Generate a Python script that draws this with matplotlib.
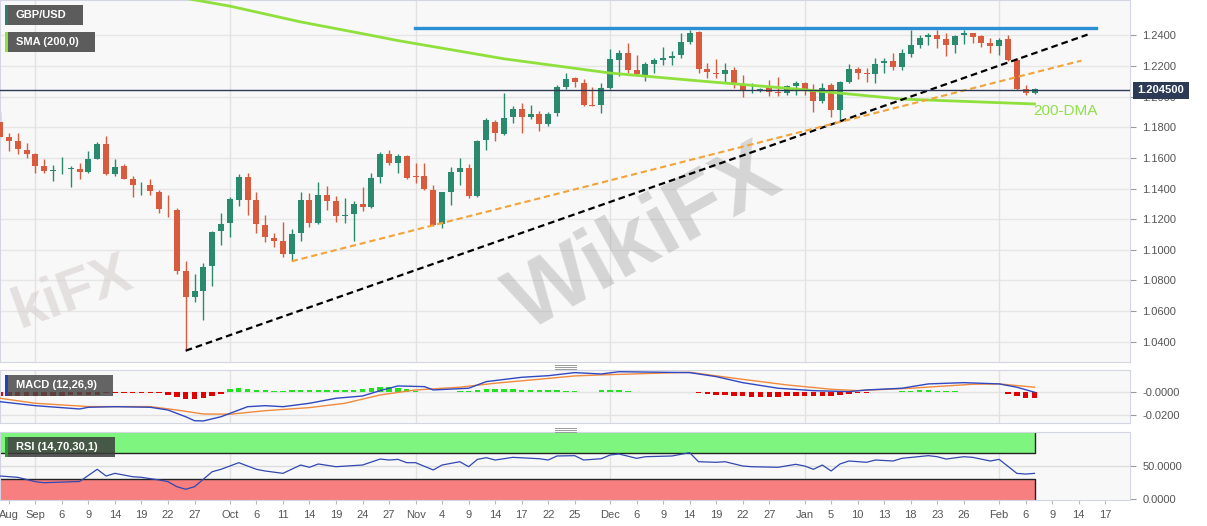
import numpy as np
import pandas as pd
import matplotlib.pyplot as plt
from matplotlib.patches import Rectangle
from matplotlib.lines import Line2D

plt.rcParams['font.family'] = ['Liberation Sans', 'DejaVu Sans']

# trading days on the chart, Fri 26 Aug 2022 .. Fri 17 Feb 2023
days = pd.bdate_range('2022-08-26', '2023-02-17')

# GBP/USD daily candles, 26 Aug 2022 .. 7 Feb 2023
opens = [1.1834, 1.1738, 1.1710, 1.1651, 1.1623, 1.1545, 1.1516, 1.1520, 1.1527, 1.1527,
         1.1510, 1.1593, 1.1689, 1.1495, 1.1545, 1.1464, 1.1421, 1.1421, 1.1377, 1.1268,
         1.1260, 1.0859, 1.0689, 1.0732, 1.0894, 1.1122, 1.1173, 1.1325, 1.1477, 1.1325,
         1.1164, 1.1079, 1.1057, 1.0973, 1.1107, 1.1325, 1.1173, 1.1356, 1.1318, 1.1220,
         1.1233, 1.1301, 1.1281, 1.1473, 1.1625, 1.1569, 1.1612, 1.1484, 1.1482, 1.1390,
         1.1168, 1.1379, 1.1510, 1.1536, 1.1351, 1.1717, 1.1832, 1.1756, 1.1865, 1.1917,
         1.1865, 1.1887, 1.1821, 1.1895, 1.2065, 1.2120, 1.2091, 1.1947, 1.1945, 1.2055,
         1.2239, 1.2287, 1.2174, 1.2141, 1.2213, 1.2237, 1.2254, 1.2272, 1.2359, 1.2424,
         1.2179, 1.2156, 1.2146, 1.2174, 1.2083, 1.2037, 1.2045, 1.2055, 1.2033, 1.2022,
         1.2070, 1.2091, 1.2043, 1.1973, 1.2076, 1.1913, 1.2094, 1.2179, 1.2156, 1.2146,
         1.2218, 1.2233, 1.2196, 1.2279, 1.2337, 1.2392, 1.2403, 1.2375, 1.2337, 1.2403,
         1.2414, 1.2396, 1.2352, 1.2331, 1.2375, 1.2239, 1.2050, 1.2026]
highs = [1.1902, 1.1761, 1.1761, 1.1695, 1.1630, 1.1591, 1.1552, 1.1608, 1.1547, 1.1565,
         1.1647, 1.1706, 1.1743, 1.1591, 1.1560, 1.1482, 1.1444, 1.1460, 1.1390, 1.1358,
         1.1275, 1.0928, 1.0842, 1.0915, 1.1122, 1.1238, 1.1343, 1.1493, 1.1499, 1.1379,
         1.1225, 1.1111, 1.1179, 1.1133, 1.1379, 1.1369, 1.1440, 1.1416, 1.1353, 1.1336,
         1.1318, 1.1408, 1.1499, 1.1640, 1.1651, 1.1625, 1.1619, 1.1565, 1.1565, 1.1423,
         1.1379, 1.1542, 1.1597, 1.1560, 1.1714, 1.1858, 1.1847, 1.2026, 1.1939, 1.1956,
         1.1945, 1.1906, 1.1902, 1.2076, 1.2156, 1.2126, 1.2113, 1.2065, 1.2087, 1.2309,
         1.2305, 1.2348, 1.2272, 1.2228, 1.2250, 1.2322, 1.2300, 1.2414, 1.2435, 1.2428,
         1.2222, 1.2244, 1.2222, 1.2192, 1.2141, 1.2091, 1.2058, 1.2109, 1.2126, 1.2076,
         1.2104, 1.2098, 1.2083, 1.2091, 1.2091, 1.2102, 1.2211, 1.2196, 1.2185, 1.2250,
         1.2250, 1.2287, 1.2309, 1.2435, 1.2403, 1.2414, 1.2435, 1.2414, 1.2403, 1.2435,
         1.2418, 1.2403, 1.2381, 1.2381, 1.2403, 1.2250, 1.2076, 1.2055]
lows = [1.1730, 1.1647, 1.1623, 1.1597, 1.1499, 1.1499, 1.1447, 1.1495, 1.1408, 1.1460,
        1.1503, 1.1591, 1.1490, 1.1482, 1.1460, 1.1346, 1.1358, 1.1358, 1.1238, 1.1212,
        1.0842, 1.0341, 1.0657, 1.0541, 1.0763, 1.1031, 1.1085, 1.1286, 1.1227, 1.1111,
        1.1053, 1.1020, 1.0951, 1.0928, 1.1059, 1.1150, 1.1168, 1.1260, 1.1183, 1.1173,
        1.1059, 1.1255, 1.1271, 1.1434, 1.1553, 1.1503, 1.1460, 1.1438, 1.1390, 1.1155,
        1.1144, 1.1292, 1.1423, 1.1336, 1.1345, 1.1651, 1.1710, 1.1750, 1.1830, 1.1761,
        1.1852, 1.1778, 1.1808, 1.1874, 1.2048, 1.2061, 1.1939, 1.1937, 1.1895, 1.2048,
        1.2135, 1.2156, 1.2141, 1.2104, 1.2156, 1.2207, 1.2207, 1.2250, 1.2344, 1.2156,
        1.2120, 1.2120, 1.2091, 1.2055, 1.1996, 1.2026, 1.2030, 1.2004, 1.2004, 1.2011,
        1.2011, 1.2011, 1.1902, 1.1956, 1.1869, 1.1847, 1.2087, 1.2113, 1.2098, 1.2087,
        1.2152, 1.2174, 1.2174, 1.2257, 1.2316, 1.2337, 1.2316, 1.2265, 1.2283, 1.2344,
        1.2348, 1.2326, 1.2283, 1.2272, 1.2235, 1.2046, 1.2011, 1.2017]
closes = [1.1736, 1.1712, 1.1658, 1.1623, 1.1549, 1.1512, 1.1519, 1.1523, 1.1531, 1.1508,
          1.1591, 1.1689, 1.1495, 1.1540, 1.1464, 1.1421, 1.1424, 1.1384, 1.1268, 1.1265,
          1.0861, 1.0689, 1.0732, 1.0889, 1.1118, 1.1166, 1.1329, 1.1477, 1.1327, 1.1166,
          1.1081, 1.1057, 1.0970, 1.1103, 1.1325, 1.1173, 1.1356, 1.1318, 1.1220, 1.1227,
          1.1299, 1.1281, 1.1471, 1.1625, 1.1565, 1.1612, 1.1471, 1.1478, 1.1395, 1.1162,
          1.1375, 1.1510, 1.1536, 1.1351, 1.1712, 1.1847, 1.1761, 1.1862, 1.1917, 1.1865,
          1.1885, 1.1821, 1.1887, 1.2061, 1.2115, 1.2098, 1.1945, 1.1939, 1.2055, 1.2244,
          1.2283, 1.2174, 1.2146, 1.2211, 1.2239, 1.2250, 1.2265, 1.2359, 1.2418, 1.2179,
          1.2163, 1.2146, 1.2174, 1.2091, 1.2043, 1.2043, 1.2047, 1.2033, 1.2022, 1.2070,
          1.2091, 1.2043, 1.1973, 1.2055, 1.1913, 1.2098, 1.2179, 1.2152, 1.2148, 1.2211,
          1.2235, 1.2196, 1.2283, 1.2337, 1.2385, 1.2403, 1.2375, 1.2337, 1.2396, 1.2418,
          1.2392, 1.2348, 1.2331, 1.2370, 1.2239, 1.2048, 1.2026, 1.2048]

# 200-day SMA (trading-day position, value)
sma_day = [0, 21, 26, 34, 41, 45, 57, 69, 79, 91, 102, 117]
sma_val = [1.2850, 1.2642, 1.2591, 1.2488, 1.2411, 1.2366, 1.2247, 1.2154, 1.2103, 1.2045, 1.1984, 1.1952]

# drawn lines: resistance, black support, orange support
resist_day, resist_val = [46.9, 123.9], [1.2448, 1.2448]
black_day, black_val = [21, 123], [1.0341, 1.2405]
orange_day, orange_val = [33, 122.3], [1.0925, 1.2235]
last_price = 1.2045

# MACD (12,26,9)
macd_day = [0, 4, 9, 10, 13, 17, 19, 21, 22, 23, 25, 28, 30, 32, 35, 38, 41, 43, 45, 48, 49, 53,
            55, 59, 62, 65, 68, 70, 78, 81, 84, 88, 92, 96, 98, 102, 105, 109, 113, 115, 117]
macd_val = [-0.0081, -0.0116, -0.0145, -0.0130, -0.0125, -0.0130, -0.0154, -0.0213, -0.0248, -0.0250,
            -0.0213, -0.0125, -0.0116, -0.0125, -0.0095, -0.0051, -0.0031, 0.0016, 0.0057, 0.0051,
            0.0022, 0.0037, 0.0095, 0.0133, 0.0147, 0.0174, 0.0162, 0.0182, 0.0174, 0.0139, 0.0086,
            0.0037, 0.0016, 0.0007, 0.0022, 0.0037, 0.0075, 0.0086, 0.0075, 0.0046, 0.0002]
signal_day = [0, 4, 10, 17, 20, 23, 26, 30, 35, 39, 43, 47, 52, 56, 61, 65, 68, 78, 83, 89, 94, 97,
              103, 110, 113, 117]
signal_val = [-0.0051, -0.0095, -0.0124, -0.0124, -0.0154, -0.0189, -0.0191, -0.0160, -0.0133, -0.0095,
              -0.0022, 0.0022, 0.0046, 0.0081, 0.0116, 0.0145, 0.0154, 0.0177, 0.0125, 0.0066, 0.0028,
              0.0016, 0.0037, 0.0072, 0.0075, 0.0046]
# histogram, one per candle (x 1e-4)
hist_e4 = [-30, -30, -30, -30, -30, -30, -30, -30, -20, -20, -20, -20, -3, -3, -3, -3,
           -8, -8, -8, -25, -40, -55, -60, -45, -30, -10,
           30, 35, 30, 20, 20, 15, 15, 20, 25, 25, 25, 20, 20, 25, 25, 30, 40, 45, 45, 40, 30, 15,
           5, 3, 3, 5, 10, 15,
           20, 30, 30, 30, 30, 25, 20, 20, 20, 20, 15, 10,
           5, 5, 20, 25, 25, 10,
           5, 5, 5, 5, 5, 5, 5,
           -5, -10, -20, -25, -30, -35, -40, -40, -40, -40, -35, -35, -35, -30, -30, -30, -25, -15, -5, -3, 0,
           5, 8, 12, 15, 20, 20, 15, 12, 10, 8, 5, 2, 0, 0,
           -15, -30, -45, -50]

# RSI (14)
rsi_day = [0, 2, 4, 5, 9, 11, 12, 13, 15, 16, 18, 19, 20, 21, 22, 24, 25, 27, 29, 30, 32, 34, 35,
           36, 38, 41, 43, 44, 45, 46, 47, 49, 50, 52, 53, 54, 55, 56, 58, 61, 62, 63, 65, 66, 68,
           69, 70, 72, 73, 76, 78, 79, 81, 82, 84, 85, 88, 90, 91, 92, 93, 94, 95, 96, 98, 99, 101,
           102, 105, 106, 107, 109, 110, 112, 113, 115, 116, 117]
rsi_val = [34.9, 32.9, 26.2, 24.6, 26.5, 45.2, 34.9, 39.0, 33.8, 32.9, 28.8, 26.2, 18.5, 14.5, 18.5,
           41.5, 45.2, 55.4, 45.2, 42.6, 39.0, 51.8, 48.3, 53.4, 49.2, 51.8, 61.0, 59.5, 60.5, 55.4,
           55.4, 44.2, 51.8, 56.9, 49.2, 60.5, 63.1, 59.5, 63.6, 61.5, 59.5, 65.7, 66.2, 59.5, 61.5,
           67.2, 68.8, 62.1, 64.6, 65.7, 70.8, 56.9, 56.0, 56.9, 50.3, 49.2, 48.3, 52.9, 50.3, 45.2,
           51.8, 42.6, 53.4, 58.0, 56.0, 59.5, 58.0, 62.1, 66.2, 64.6, 61.0, 64.6, 63.6, 58.0, 60.5,
           39.0, 37.9, 39.0]

tick_dates = ['2022-08-29', '2022-09-01', '2022-09-06', '2022-09-09', '2022-09-14', '2022-09-19',
              '2022-09-22', '2022-09-27', '2022-10-03', '2022-10-06', '2022-10-11', '2022-10-14',
              '2022-10-19', '2022-10-24', '2022-10-27', '2022-11-01', '2022-11-04', '2022-11-09',
              '2022-11-14', '2022-11-17', '2022-11-22', '2022-11-25', '2022-12-01', '2022-12-06',
              '2022-12-09', '2022-12-14', '2022-12-19', '2022-12-22', '2022-12-27', '2023-01-02',
              '2023-01-05', '2023-01-10', '2023-01-13', '2023-01-18', '2023-01-23', '2023-01-26',
              '2023-02-01', '2023-02-06', '2023-02-09', '2023-02-14', '2023-02-17']
tick_labels = ['Aug', 'Sep', '6', '9', '14', '19', '22', '27', 'Oct', '6', '11', '14', '19', '24', '27',
               'Nov', '4', '9', '14', '17', '22', '25', 'Dec', '6', '9', '14', '19', '22', '27',
               'Jan', '5', '10', '13', '18', '23', '26', 'Feb', '6', '9', '14', '17']
month_starts = ['2022-09-01', '2022-10-03', '2022-11-01', '2022-12-01', '2023-01-02', '2023-02-01']

GREEN, RED = '#2a8a6e', '#d95b3e'
W, H = 1207, 526
fig = plt.figure(figsize=(W / 100, H / 100), dpi=100)


def fx(x):
    return x / W


def fy(y):
    return 1 - y / H


def panel(x0, y0, x1, y1):
    a = fig.add_axes([fx(x0), fy(y1), fx(x1) - fx(x0), fy(y0) - fy(y1)])
    a.set_facecolor('#f8f8f8')
    for s in a.spines.values():
        s.set_color('#d3d6e2')
    return a


ax = panel(0, 0, 1130, 362)
axm = panel(0, 370, 1130, 423)
axr = panel(0, 432, 1130, 500)

x = np.arange(len(opens))
o, h, l, c = map(np.array, (opens, highs, lows, closes))
cols = np.where(c >= o, GREEN, RED)
month_pos = days.get_indexer(pd.to_datetime(month_starts))
tick_pos = days.get_indexer(pd.to_datetime(tick_dates))

# ---- main price panel
ax.set_xlim(0, 127.8)
ax.set_ylim(1.0267, 1.2631)
yt = np.arange(1.04, 1.2401, 0.02)
for v in yt:
    ax.axhline(v, color='#e6e6e6', lw=1, zorder=0)
for m in month_pos:
    ax.axvline(m, color='#e2e2e2', lw=1, zorder=0)

# watermark
ax.text(73, 1.106, 'WikiFX', fontsize=64, fontweight='bold', color='#8c8c8c', alpha=0.32,
        rotation=29, ha='center', va='center', zorder=1)
ax.text(0.6, 1.072, 'kiFX', fontsize=42, fontweight='bold', color='#d8d0d0', alpha=0.6,
        rotation=20, ha='left', va='center', zorder=1)

ax.vlines(x, l, h, colors=cols, lw=1, zorder=2)
ax.bar(x, np.maximum(np.abs(c - o), 0.00025), bottom=np.minimum(o, c), width=0.68,
       color=cols, zorder=3)
ax.plot(sma_day, sma_val, color='#8fe03c', lw=2, zorder=4)
ax.plot(resist_day, resist_val, color='#2b8fd6', lw=2.4, zorder=4)
ax.plot(black_day, black_val, color='black', lw=1.6, ls=(0, (3, 1.8)), zorder=4)
ax.plot(orange_day, orange_val, color='#f2a33a', lw=1.5, ls=(0, (3, 1.8)), zorder=4)
ax.axhline(last_price, color='#2c3a55', lw=1, zorder=4)
ax.yaxis.tick_right()
ax.set_yticks(yt)
ax.set_yticklabels([f'{v:.4f}' for v in yt])
ax.set_xticks([])
ax.tick_params(axis='y', length=4, color='#999999', labelcolor='#555555', labelsize=8, pad=5)

# ---- MACD panel
axm.set_xlim(0, 127.8)
axm.set_ylim(-0.0268, 0.0197)
for v in (0, -0.02):
    axm.axhline(v, color='#e2e2e2', lw=1, zorder=0)
for m in month_pos:
    axm.axvline(m, color='#e2e2e2', lw=1, zorder=0)
hist = np.array(hist_e4) * 1e-4
axm.bar(x, hist, width=0.62, color=np.where(hist >= 0, '#22e022', '#e00000'), zorder=2)
axm.plot(signal_day, signal_val, color='#f08a3c', lw=1, zorder=3)
axm.plot(macd_day, macd_val, color='#3048c0', lw=1, zorder=4)
axm.yaxis.tick_right()
axm.set_yticks([0, -0.02])
axm.set_yticklabels(['-0.0000', '-0.0200'])
axm.set_xticks([])
axm.tick_params(axis='y', length=4, color='#999999', labelcolor='#555555', labelsize=8, pad=5)

# ---- RSI panel
axr.set_xlim(0, 127.8)
axr.set_ylim(-2, 102.6)
last = x[-1]
axr.add_patch(Rectangle((0, 70), last, 32.6, facecolor='#7ef57e', edgecolor='none', zorder=1))
axr.add_patch(Rectangle((0, -2), last, 32, facecolor='#f77f7f', edgecolor='none', zorder=1))
axr.plot([0, last, last], [70, 70, 102.6], color='#222222', lw=1, zorder=2)
axr.plot([0, last, last], [30, 30, -2], color='#222222', lw=1, zorder=2)
axr.axhline(50, color='#dddddd', lw=1, zorder=0)
for m in month_pos:
    axr.axvline(m, color='#e2e2e2', lw=1, zorder=0)
axr.plot(rsi_day, rsi_val, color='#3048b0', lw=0.9, zorder=3)
axr.yaxis.tick_right()
axr.set_yticks([50, 0])
axr.set_yticklabels(['50.0000', '0.0000'])
axr.set_xticks(tick_pos)
axr.set_xticklabels(tick_labels)
axr.tick_params(axis='y', length=4, color='#999999', labelcolor='#555555', labelsize=8, pad=5)
axr.tick_params(axis='x', length=3, color='#bbbbbb', labelcolor='#555555', labelsize=8, pad=4)


# ---- tags
def tag(x0, y0, x1, y1, text, strip, face='#5c5c5c', alpha=1.0):
    fig.add_artist(Rectangle((fx(x0), fy(y1)), fx(x1 - x0), fy(y0) - fy(y1), transform=fig.transFigure,
                             facecolor=face, alpha=alpha, edgecolor='none', zorder=5))
    if strip:
        fig.add_artist(Rectangle((fx(x0), fy(y1)), fx(2.5), fy(y0) - fy(y1), transform=fig.transFigure,
                                 facecolor=strip, edgecolor='none', zorder=6))
    fig.text(fx(x0 + 11), fy((y0 + y1) / 2), text, color='white', fontsize=8, fontweight='bold',
             va='center', ha='left', zorder=7)


tag(5, 5, 83, 25, 'GBP/USD', '#2e7d6f')
tag(5, 32, 95, 52, 'SMA (200,0)', '#8fe03c')
tag(5, 375, 113, 396, 'MACD (12,26,9)', '#2040c0', face='#4a4a4a', alpha=0.85)
tag(5, 437, 115, 457, 'RSI (14,70,30,1)', '#2a9a2a', face='#3c3c3c', alpha=0.85)

# last price label
fig.add_artist(Rectangle((fx(1133), fy(98.5)), fx(56), fy(82) - fy(98.5), transform=fig.transFigure,
                         facecolor='#2c3a55', edgecolor='none', zorder=8))
fig.text(fx(1161), fy(90.5), f'{last_price:.6f}', color='white', fontsize=8, fontweight='bold',
         ha='center', va='center', zorder=9)

fig.text(fx(1033), fy(111), '200-DMA', color='#8fe04a', fontsize=11, ha='left', va='center')

# panel separators
for yy in (364.5, 366.5, 368.5, 427.5, 429.5, 431.5):
    fig.add_artist(Line2D([fx(555), fx(576)], [fy(yy), fy(yy)], color='#9a9a9a', lw=0.7,
                          transform=fig.transFigure))

fig.savefig('out.png', dpi=100, facecolor='white')
